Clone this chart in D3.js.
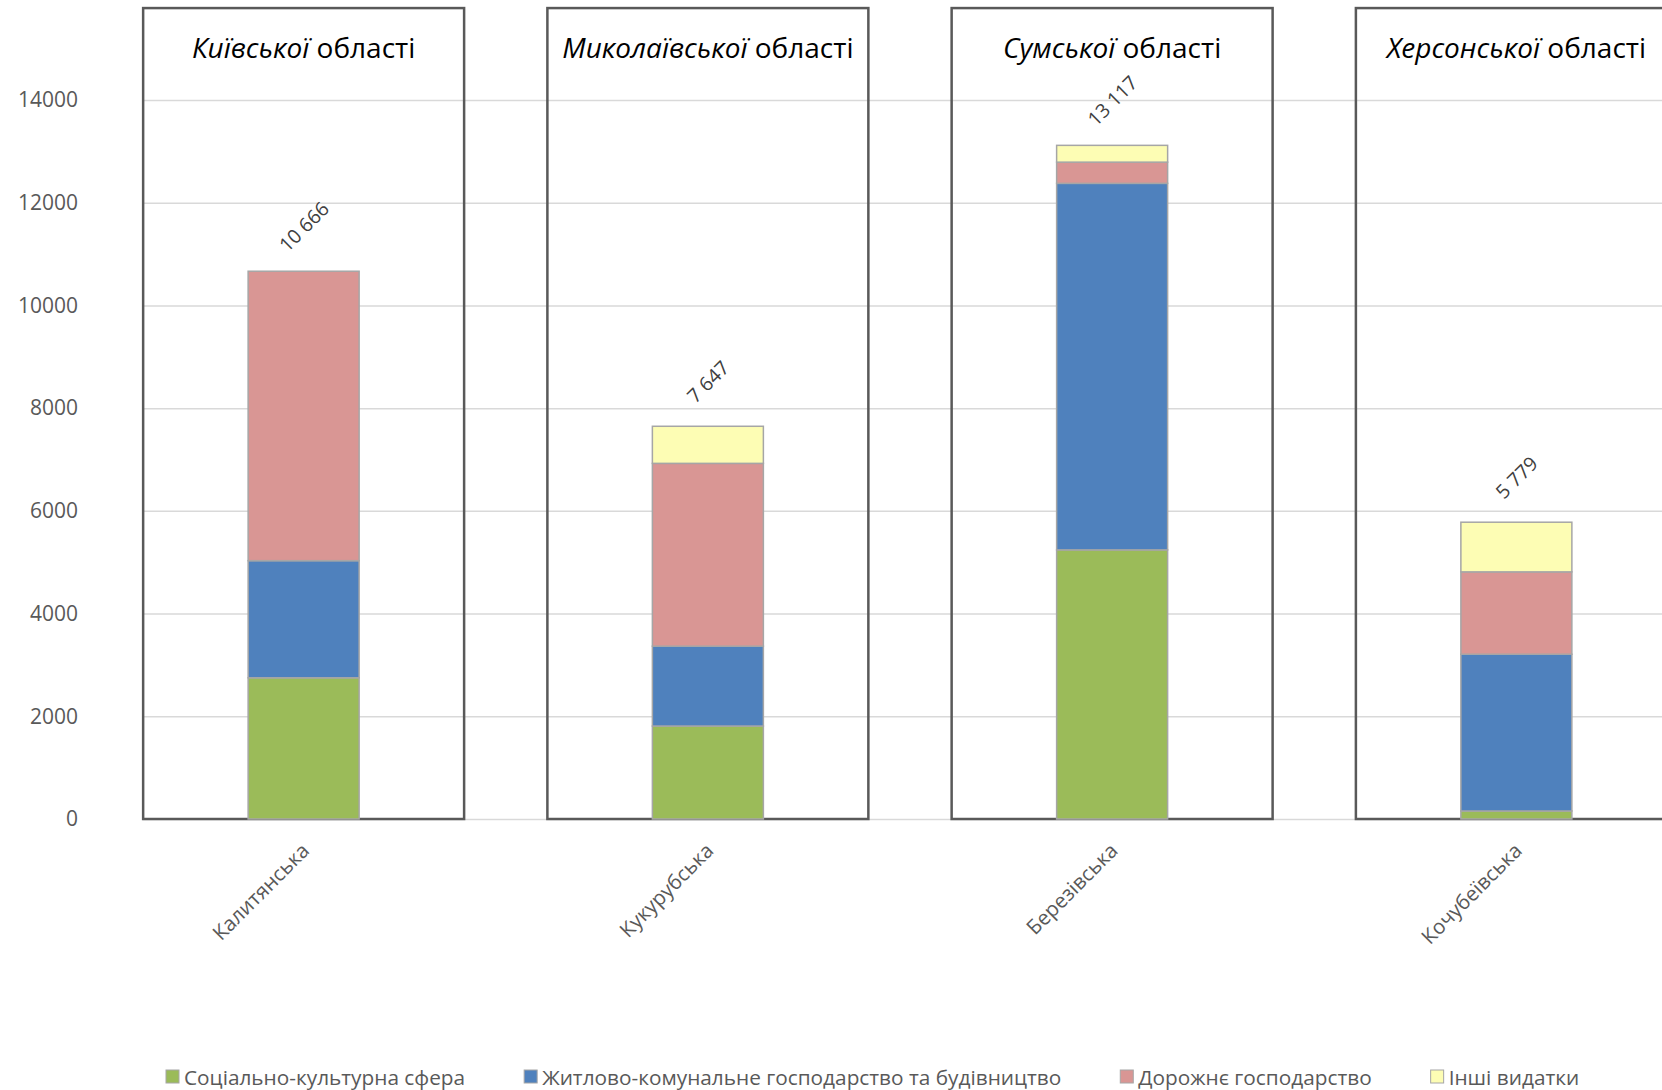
<!DOCTYPE html>
<html>
<head>
<meta charset="utf-8">
<script src="https://cdn.jsdelivr.net/npm/d3@7"></script>
<style>
  html, body { margin: 0; padding: 0; background: #fff; overflow: hidden; }
  svg { display: block; font-family: "Open Sans", "Noto Sans", sans-serif; }
</style>
</head>
<body>
<svg id="chart" width="1662" height="1090"></svg>
<script>
// ---- data ----
const categories = ["Калитянська", "Кукурубська", "Березівська", "Кочубеївська"];
const regionsItalic = ["Київської", "Миколаївської", "Сумської", "Херсонської"];
const regionSuffix = " області";
const seriesNames = ["Соціально-культурна сфера", "Житлово-комунальне господарство та будівництво", "Дорожнє господарство", "Інші видатки"];
const socialCultural = [2750, 1810, 5240, 156];
const housingConstruction = [2280, 1555, 7137, 3052];
const roads = [5636, 3560, 413, 1604];
const otherExpenses = [0, 722, 327, 967];
const totals = [10666, 7647, 13117, 5779];
const totalLabels = ["10 666", "7 647", "13 117", "5 779"];
const yTicks = [0, 2000, 4000, 6000, 8000, 10000, 12000, 14000];
const colors = ["#9bbb59", "#4f81bd", "#d99694", "#fdfdb4"];
const boxTopValue = 15790;

// ---- layout ----
const svg = d3.select("#chart");
const plotLeft = 143, plotRight = 1662;
const y = d3.scaleLinear().domain([0, 14000]).range([819, 100]);
const x = d3.scaleBand().domain(categories).range([101.5, 1718.5]).paddingInner(0).paddingOuter(0);
const bw = x.bandwidth();
const barW = bw * 0.2746;
const boxW = bw * 0.794;

// gridlines
const grid = svg.append("g").attr("transform", `translate(${plotLeft},0)`)
  .call(d3.axisLeft(y).tickValues(yTicks).tickSize(-(plotRight - plotLeft)).tickFormat(""));
grid.select(".domain").remove();
grid.selectAll("line").attr("stroke", "#d9d9d9").attr("stroke-width", 1.5);

// y tick labels
const yAxis = svg.append("g").attr("transform", `translate(${plotLeft},0)`)
  .call(d3.axisLeft(y).tickValues(yTicks).tickSize(0).tickPadding(65).tickFormat(d => String(d)));
yAxis.select(".domain").remove();
yAxis.selectAll("text").attr("fill", "#595959").style("font-size", "21px")
  .style("font-family", "'Open Sans', sans-serif");

// stacked data
const rows = categories.map((c, i) => ({
  cat: c, vals: [socialCultural[i], housingConstruction[i], roads[i], otherExpenses[i]]
}));
const keys = [0, 1, 2, 3];
const stack = d3.stack().keys(keys).value((d, k) => d.vals[k]);
const stacked = stack(rows);

// region frames
svg.append("g").selectAll("rect").data(categories).join("rect")
  .attr("x", d => x(d) + bw / 2 - boxW / 2)
  .attr("y", y(boxTopValue))
  .attr("width", boxW)
  .attr("height", y(0) - y(boxTopValue))
  .attr("fill", "none")
  .attr("stroke", "#595959")
  .attr("stroke-width", 2.5);

// bars
const barsG = svg.append("g");
stacked.forEach((layer, li) => {
  barsG.append("g").selectAll("rect").data(layer).join("rect")
    .attr("x", d => x(d.data.cat) + bw / 2 - barW / 2)
    .attr("y", d => y(d[1]))
    .attr("width", barW)
    .attr("height", d => Math.max(0, y(d[0]) - y(d[1])))
    .attr("fill", colors[li])
    .attr("stroke", "#a6a6a6")
    .attr("stroke-width", 1.5)
    .style("display", d => (d[1] - d[0]) > 0 ? null : "none");
});

// titles
categories.forEach((c, i) => {
  const t = svg.append("text")
    .attr("x", x(c) + bw / 2)
    .attr("y", 58)
    .attr("text-anchor", "middle")
    .attr("fill", "#000")
    .style("font-size", "28px");
  t.append("tspan").style("font-style", "italic").text(regionsItalic[i]);
  t.append("tspan").text(regionSuffix);
});

// total labels
svg.append("g").selectAll("text").data(categories).join("text")
  .attr("transform", (d, i) => `translate(${x(d) + bw / 2},${y(totals[i]) - 45}) rotate(-45)`)
  .attr("text-anchor", "middle")
  .attr("dominant-baseline", "central")
  .attr("fill", "#404040")
  .style("font-size", "19.5px")
  .text((d, i) => totalLabels[i]);

// category labels
svg.append("g").selectAll("text").data(categories).join("text")
  .attr("transform", d => `translate(${x(d) + bw / 2 + 7},${y(0) + 33}) rotate(-45)`)
  .attr("text-anchor", "end")
  .attr("fill", "#595959")
  .style("font-size", "20.5px")
  .text(d => d);

// legend
const legend = svg.append("g");
let lx = 166;
const ly = 1077;
seriesNames.forEach((name, i) => {
  legend.append("rect")
    .attr("x", lx).attr("y", ly - 7).attr("width", 13).attr("height", 13)
    .attr("fill", colors[i]).attr("stroke", "#a6a6a6").attr("stroke-width", 1);
  const t = legend.append("text")
    .attr("x", lx + 18).attr("y", ly)
    .attr("dominant-baseline", "central")
    .attr("fill", "#595959")
    .style("font-size", "20.8px")
    .text(name);
  const w = t.node().getComputedTextLength();
  lx = lx + 18 + w + 59;
});
</script>
</body>
</html>
